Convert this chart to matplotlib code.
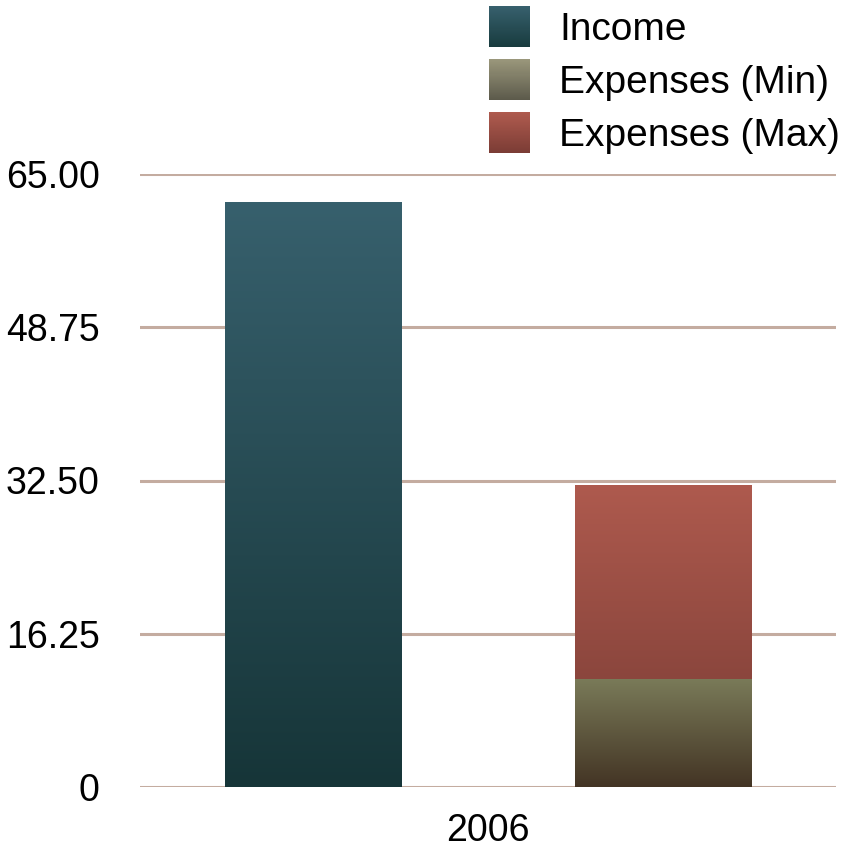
import matplotlib
matplotlib.use('Agg')
import matplotlib.pyplot as plt
import numpy as np
from matplotlib.colors import LinearSegmentedColormap, to_rgb
from matplotlib.patches import Rectangle, Patch
from matplotlib.legend_handler import HandlerBase

# ---- data ----
categories = ['2006']
series_names = ['Income', 'Expenses (Min)', 'Expenses (Max)']
income = [62.0]
expenses_min = [11.5]
expenses_max = [20.5]
yticks = [0, 16.25, 32.5, 48.75, 65.0]
ytick_labels = ['0', '16.25', '32.50', '48.75', '65.00']

# gradient colours (top, bottom)
bar_grad = {
    'Income': ('#37606d', '#163538'),
    'Expenses (Min)': ('#7a7b59', '#433424'),
    'Expenses (Max)': ('#ae5a4e', '#8b463d'),
}
legend_grad = {
    'Income': ('#37606d', '#183b3e'),
    'Expenses (Min)': ('#9a977b', '#5c5a4b'),
    'Expenses (Max)': ('#ae5a4e', '#7b3c35'),
}

plt.rcParams['font.family'] = ['Liberation Sans', 'DejaVu Sans']

fig = plt.figure(figsize=(8.46, 8.49), dpi=100)
W, H = 846, 849
ax = fig.add_axes([140 / W, (H - 787) / H, 696 / W, (787 - 174) / H])

x = np.arange(len(categories))
width = 0.503
b_inc = ax.bar(x - 0.5, income, width, color='none', zorder=3)
b_min = ax.bar(x + 0.5, expenses_min, width, color='none', zorder=3)
b_max = ax.bar(x + 0.5, expenses_max, width, bottom=expenses_min, color='none', zorder=3)


def fill_gradient(container, top, bottom):
    cmap = LinearSegmentedColormap.from_list('g', [bottom, top])
    grad = np.linspace(0, 1, 256).reshape(-1, 1)
    for p in container.patches:
        x0, y0, w, h = p.get_x(), p.get_y(), p.get_width(), p.get_height()
        ax.imshow(grad, extent=[x0, x0 + w, y0, y0 + h], origin='lower',
                  aspect='auto', cmap=cmap, zorder=3, interpolation='bilinear')


fill_gradient(b_inc, *bar_grad['Income'])
fill_gradient(b_min, *bar_grad['Expenses (Min)'])
fill_gradient(b_max, *bar_grad['Expenses (Max)'])

ax.set_xlim(-0.994, 0.994)
ax.set_ylim(0, 65)
ax.set_yticks(yticks)
ax.set_yticklabels(ytick_labels)
ax.set_xticks(x)
ax.set_xticklabels(categories)
ax.tick_params(axis='both', length=0, labelsize=27)
ax.tick_params(axis='y', pad=29)
ax.tick_params(axis='x', pad=19)
for s in ax.spines.values():
    s.set_visible(False)
ax.yaxis.grid(True, color='#c4aca0', lw=2.2)
ax.set_axisbelow(True)


class GradHandler(HandlerBase):
    def __init__(self, top, bottom, n=40):
        super().__init__()
        self.top = np.array(to_rgb(top))
        self.bottom = np.array(to_rgb(bottom))
        self.n = n

    def create_artists(self, legend, orig_handle, xdescent, ydescent,
                       width, height, fontsize, trans):
        arts = []
        n = self.n
        for i in range(n):
            t = i / (n - 1)
            c = self.bottom * (1 - t) + self.top * t
            r = Rectangle((-xdescent, -ydescent + height * i / n), width,
                          height / n * 1.05, facecolor=c, edgecolor='none',
                          lw=0, transform=trans)
            arts.append(r)
        return arts


handles = [Patch() for _ in series_names]
hmap = {h: GradHandler(*legend_grad[name]) for h, name in zip(handles, series_names)}
fig.legend(handles, series_names, handler_map=hmap, loc='upper left',
           bbox_to_anchor=(489 / W, 1 - 6 / H), frameon=False, fontsize=28,
           borderpad=0, borderaxespad=0, handlelength=1.06, handleheight=1.24,
           handletextpad=0.75, labelspacing=0.3)

fig.savefig('out.png', dpi=100)
